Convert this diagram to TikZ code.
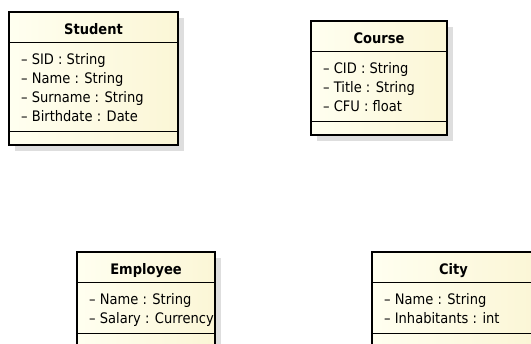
\documentclass[tikz,border=0pt]{standalone}
\usepackage{fontspec}
\setmainfont[FakeStretch=0.9]{DejaVu Sans}

\definecolor{classlight}{RGB}{255,255,240}
\definecolor{classdark}{RGB}{251,246,214}
\definecolor{shadowgray}{RGB}{222,222,222}

\tikzset{
  classbody/.style={left color=classlight, right color=classdark},
  classborder/.style={line width=2pt},
  classline/.style={line width=1pt},
  classshadow/.style={fill=shadowgray},
  classtitle/.style={font=\fontsize{14.5}{17}\selectfont\bfseries, anchor=base, inner sep=0pt},
  classattr/.style={font=\fontsize{14.5}{17}\selectfont, anchor=base west, inner sep=0pt},
}

% #1 name, #2 left, #3 right, #4 top, #5 number of attributes, #6 title, #7 attributes
\newcommand{\umlclass}[7]{%
  \pgfmathsetmacro{\clsHead}{#4+30.5}
  \pgfmathsetmacro{\clsSep}{#4+30.5+32+(#5-1)*19}
  \pgfmathsetmacro{\clsBottom}{\clsSep+14}
  \fill[classshadow] (#2+6,#4+6) rectangle (#3+6,\clsBottom+6);
  \shade[classbody] (#2,#4) rectangle (#3,\clsBottom);
  \draw[classline] (#2,\clsHead) -- (#3,\clsHead) (#2,\clsSep) -- (#3,\clsSep);
  \draw[classborder] (#2,#4) rectangle (#3,\clsBottom);
  \node[classtitle] (#1) at ({(#2+#3)/2},#4+22.5) {#6};
  \foreach \attr [count=\i] in {#7}
    \node[classattr] (#1-\i) at (#2+12,{\clsHead+22+(\i-1)*19}) {\attr};
}

\begin{document}
\begin{tikzpicture}[x=1pt, y=-1pt]
    \useasboundingbox (0,0) rectangle (531,344);
    \clip (0,0) rectangle (531,344);
    \umlclass{student}{9}{178}{12}{4}{Student}{– SID : String, – Name : String, – Surname : String, – Birthdate : Date}
    \umlclass{course}{311}{447}{21}{3}{Course}{– CID : String, – Title : String, – CFU : float}
    \umlclass{employee}{77}{215}{252}{2}{Employee}{– Name : String, – Salary : Currency}
    \umlclass{city}{372}{535}{252}{2}{City}{– Name : String, – Inhabitants : int}
\end{tikzpicture}
\end{document}
